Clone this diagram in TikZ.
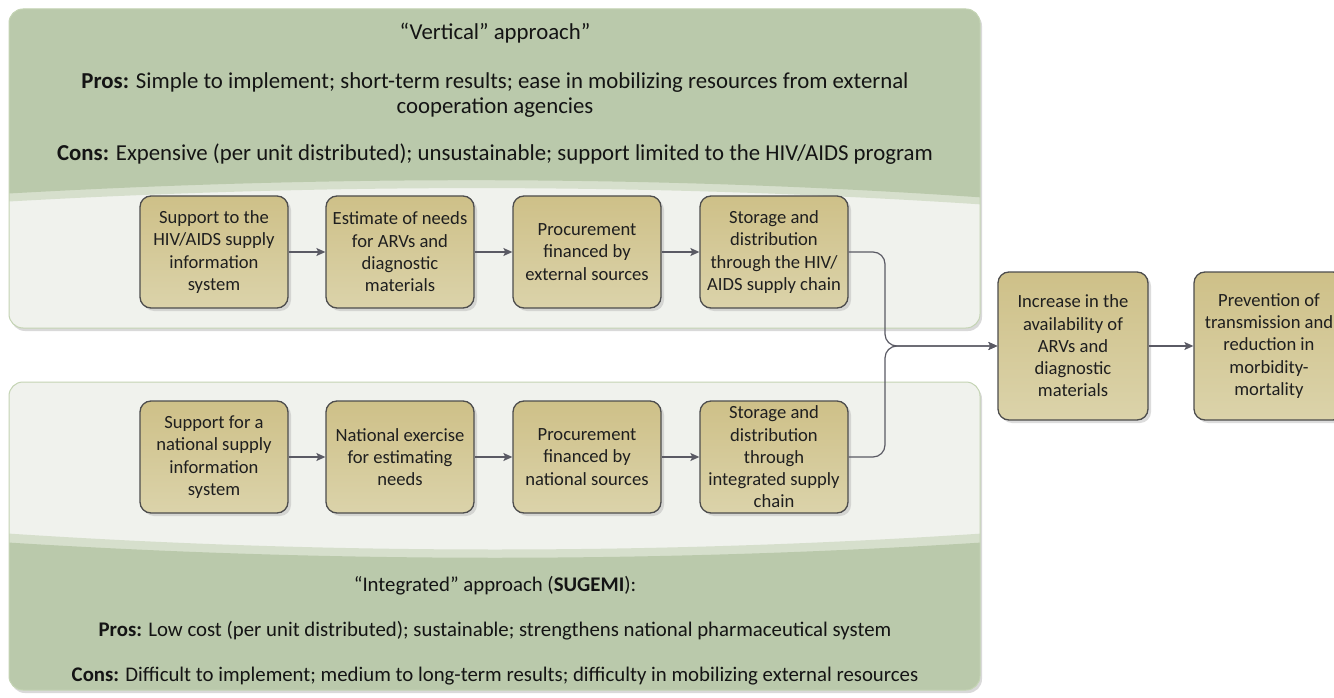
\documentclass[tikz,border=0pt]{standalone}
\usepackage{fontspec}
\setmainfont{Carlito}
\usetikzlibrary{arrows.meta,shadows}
\definecolor{hdr}{RGB}{186,201,171}
\definecolor{pale}{RGB}{240,242,237}
\definecolor{band}{RGB}{214,223,204}
\definecolor{pborder}{RGB}{196,212,180}
\definecolor{boxtop}{RGB}{206,192,136}
\definecolor{boxbot}{RGB}{219,211,170}
\definecolor{boxline}{RGB}{77,77,77}
\definecolor{arr}{RGB}{90,90,100}
\begin{document}
\begin{tikzpicture}[x=1pt,y=-1pt,
  stepbox/.style={draw=boxline, line width=1.3pt, rounded corners=11pt,
    top color=boxtop, bottom color=boxbot, minimum width=148pt, minimum height=112pt,
    align=center, font=\fontsize{18.6}{22.3}\selectfont, text=black!88, inner sep=1pt,
    drop shadow={shadow xshift=3pt, shadow yshift=-3pt, fill=black!30, opacity=.45}},
  bigbox/.style={stepbox, minimum width=150pt, minimum height=148pt},
  hdrtext/.style={align=center, font=\fontsize{22.8}{25}\selectfont, text=black!92, inner sep=0pt},
  hdrtextb/.style={hdrtext, font=\fontsize{20.8}{25}\selectfont},
  conn/.style={draw=arr, line width=1.2pt, -{Stealth[length=9pt,width=8pt,inset=2pt]}},
  panelshadow/.style={fill=black!15, rounded corners=14pt},
  panelborder/.style={draw=pborder, line width=1pt, rounded corners=14pt}
]
\useasboundingbox (0,0) rectangle (1334,698);
\fill[white] (0,0) rectangle (1334,698);

% ---- top panel ----
\fill[panelshadow] (11,12) rectangle (982,331);
\begin{scope}
  \path[clip, rounded corners=14pt] (9,9) rectangle (980,328);
  \fill[pale] (0,0) rectangle (990,340);
  \fill[band] (0,0) -- (990,0) -- (990,205) .. controls (660,183) and (330,183) .. (0,202) -- cycle;
  \fill[hdr] (0,0) -- (990,0) -- (990,198) .. controls (660,175) and (330,175) .. (0,194) -- cycle;
\end{scope}
\draw[panelborder] (9,9) rectangle (980,328);

% ---- bottom panel ----
\fill[panelshadow] (11,385) rectangle (982,693);
\begin{scope}
  \path[clip, rounded corners=14pt] (9,382) rectangle (980,690);
  \fill[pale] (0,370) rectangle (990,700);
  \fill[band] (0,700) -- (990,700) -- (990,533) .. controls (660,555) and (330,555) .. (0,533) -- cycle;
  \fill[hdr] (0,700) -- (990,700) -- (990,542) .. controls (660,563) and (330,563) .. (0,542) -- cycle;
\end{scope}
\draw[panelborder] (9,382) rectangle (980,690);

% ---- header texts ----
\node[hdrtext] (vt) at (495,33) {“Vertical” approach”};
\node[hdrtext] (vp) at (495,95) {\textbf{Pros:} Simple to implement; short-term results; ease in mobilizing resources from external\\cooperation agencies};
\node[hdrtext] (vc) at (495,154) {\textbf{Cons:} Expensive (per unit distributed); unsustainable; support limited to the HIV/AIDS program};

\node[hdrtextb] (it) at (495,586) {“Integrated” approach (\textbf{SUGEMI}):};
\node[hdrtextb] (ip) at (495,631) {\textbf{Pros:} Low cost (per unit distributed); sustainable; strengthens national pharmaceutical system};
\node[hdrtextb] (ic) at (495,676) {\textbf{Cons:} Difficult to implement; medium to long-term results; difficulty in mobilizing external resources};

% ---- top row ----
\node[stepbox] (t1) at (214,252) {Support to the\\HIV/AIDS supply\\information\\system};
\node[stepbox] (t2) at (400,252) {Estimate of needs\\for ARVs and\\diagnostic\\materials};
\node[stepbox] (t3) at (587,252) {Procurement\\financed by\\external sources};
\node[stepbox] (t4) at (774,252) {Storage and\\distribution\\through the HIV/\\AIDS supply chain};

% ---- bottom row ----
\node[stepbox] (b1) at (214,457) {Support for a\\national supply\\information\\system};
\node[stepbox] (b2) at (400,457) {National exercise\\for estimating\\needs};
\node[stepbox] (b3) at (587,457) {Procurement\\financed by\\national sources};
\node[stepbox] (b4) at (774,457) {Storage and\\distribution\\through\\integrated supply\\chain};

% ---- right boxes ----
\node[bigbox] (r1) at (1073,346) {Increase in the\\availability of\\ARVs and\\diagnostic\\materials};
\node[bigbox] (r2) at (1269,346) {Prevention of\\transmission and\\reduction in\\morbidity-\\mortality};

% ---- connectors ----
\draw[conn] (t1) -- (t2);
\draw[conn] (t2) -- (t3);
\draw[conn] (t3) -- (t4);
\draw[conn] (b1) -- (b2);
\draw[conn] (b2) -- (b3);
\draw[conn] (b3) -- (b4);
\coordinate (j) at (885,346);
\draw[conn, rounded corners=12pt] (t4.east) -| (j) -- (r1.west);
\draw[conn, rounded corners=12pt] (b4.east) -| (j) -- (r1.west);
\draw[conn] (r1) -- (r2);
\end{tikzpicture}
\end{document}
